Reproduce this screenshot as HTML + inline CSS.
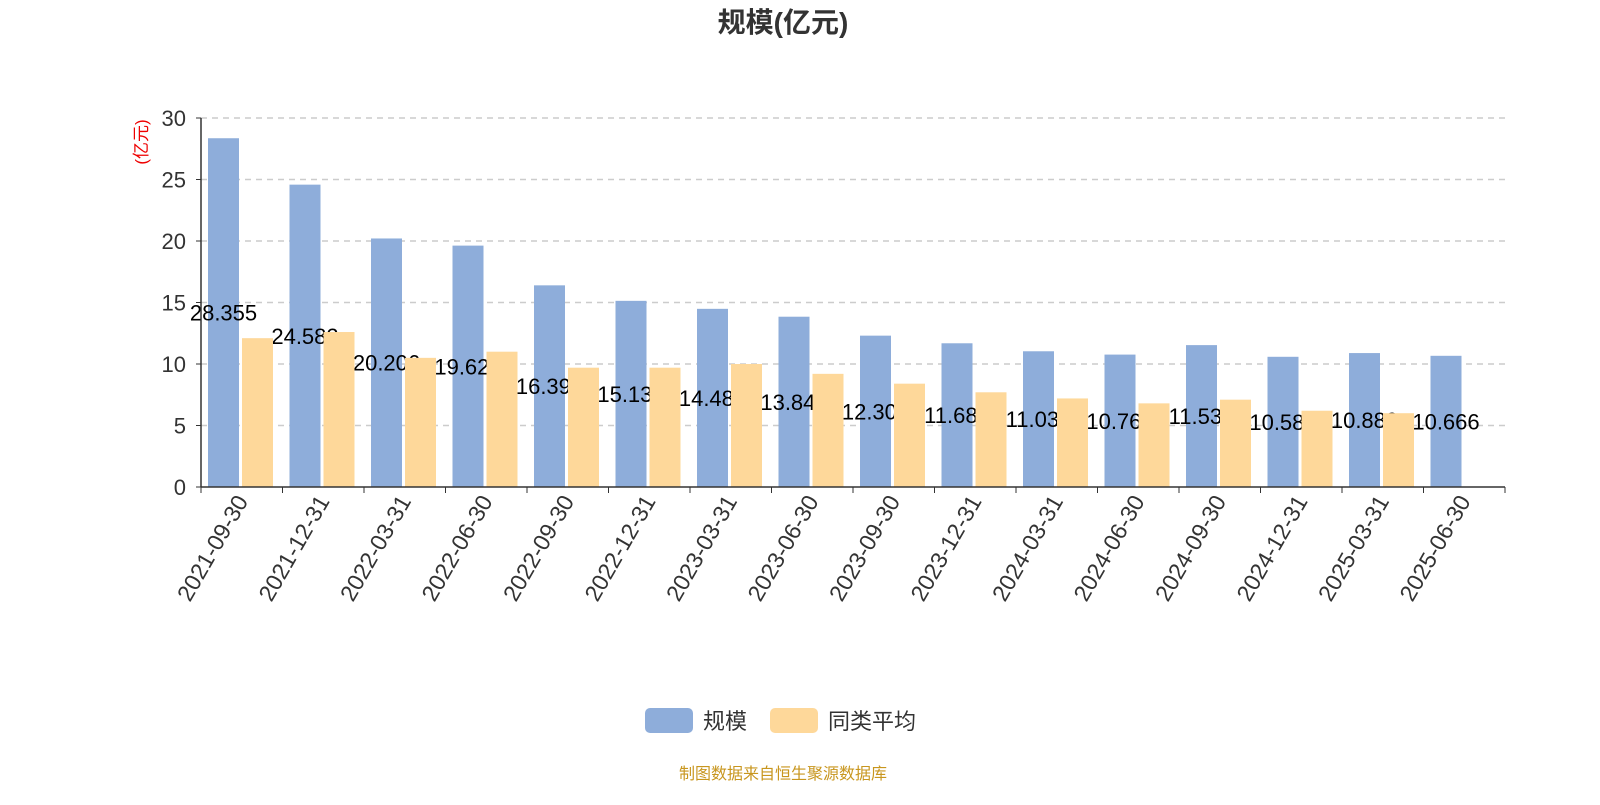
<!DOCTYPE html>
<html><head><meta charset="utf-8"><style>
body{margin:0;background:#fff;}
svg text{font-family:"Liberation Sans","Noto Sans CJK SC",sans-serif;}
</style></head><body>
<svg id="c" width="1600" height="800" xmlns="http://www.w3.org/2000/svg">
<text x="783" y="32" text-anchor="middle" font-size="28" font-weight="bold" fill="#333">规模(亿元)</text>
<text transform="translate(147,142) rotate(-90)" text-anchor="middle" font-size="17" fill="#e00">(亿元)</text>
<g id="grid"></g><g id="blue"></g><g id="labels"></g><g id="yellow"></g><g id="axes"></g>
<g>
<rect x="645" y="708" width="48" height="25" rx="5" fill="#8eadda"/>
<text x="703" y="729" font-size="22" fill="#333">规模</text>
<rect x="770" y="708" width="48" height="25" rx="5" fill="#fed89a"/>
<text x="828" y="729" font-size="22" fill="#333">同类平均</text>
</g>
<text x="783" y="779" text-anchor="middle" font-size="16" fill="#c8961e">制图数据来自恒生聚源数据库</text>
</svg>
<script>
const categories=["2021-09-30","2021-12-31","2022-03-31","2022-06-30","2022-09-30","2022-12-31","2023-03-31","2023-06-30","2023-09-30","2023-12-31","2024-03-31","2024-06-30","2024-09-30","2024-12-31","2025-03-31","2025-06-30"];
const scaleValues=[28.355,24.582,20.206,19.625,16.395,15.135,14.485,13.845,12.305,11.685,11.035,10.765,11.535,10.586,10.889,10.666];
const scaleLabels=["28.355","24.582","20.206","19.625","16.395","15.135","14.485","13.845","12.305","11.685","11.035","10.765","11.535","10.586","10.889","10.666"];
const avgValues=[12.1,12.6,10.5,11.0,9.7,9.7,10.0,9.2,8.4,7.7,7.2,6.8,7.1,6.2,6.0,null];
const yTicks=[0,5,10,15,20,25,30];
const NS="http://www.w3.org/2000/svg";
const x0=201,x1=1505,y0=487,y30=118;
const bw=(x1-x0)/categories.length;
const y=v=>y0-(v/30)*(y0-y30);
const xs=i=>x0+bw*i;
function mk(t,a,p){const e=document.createElementNS(NS,t);for(const k in a)e.setAttribute(k,a[k]);p.appendChild(e);return e;}
const g=document.getElementById('grid'),B=document.getElementById('blue'),L=document.getElementById('labels'),Y=document.getElementById('yellow'),A=document.getElementById('axes');
yTicks.forEach(t=>{
 if(t>0){const l=mk('line',{x1:x0,x2:x1,y1:y(t),y2:y(t),stroke:'#ccc','stroke-dasharray':'6,5','stroke-width':1.5},g);
 }
 const tx=mk('text',{x:186,y:y(t)+8,'text-anchor':'end','font-size':22,fill:'#333'},A);tx.textContent=t;
 
 mk('line',{x1:196,x2:201,y1:y(t),y2:y(t),stroke:'#333'},A);
});
mk('line',{x1:x0,x2:x0,y1:y30,y2:y0,stroke:'#333','stroke-width':1.5},A);
mk('line',{x1:x0,x2:x1,y1:y0,y2:y0,stroke:'#333','stroke-width':1.5},A);
for(let i=0;i<=categories.length;i++)mk('line',{x1:xs(i),x2:xs(i),y1:y0,y2:y0+6,stroke:'#333'},A);
categories.forEach((c,i)=>{
 const bx=xs(i)+7,w=31;
 const r=mk('rect',{x:bx,y:y(scaleValues[i]),width:w,height:y0-y(scaleValues[i]),fill:'#8eadda'},B);
 
 const t=mk('text',{x:bx+w/2,y:(y(scaleValues[i])+y0)/2+8,'text-anchor':'middle','font-size':22,fill:'#000'},L);
 t.textContent=scaleLabels[i];
 if(avgValues[i]!=null){const r2=mk('rect',{x:bx+w+3,y:y(avgValues[i]),width:w,height:y0-y(avgValues[i]),fill:'#fed89a'},Y);
 }
 const cx=xs(i)+bw/2;
 const xt=mk('text',{transform:`translate(${cx+7},${y0+14}) rotate(-60)`,'text-anchor':'end','font-size':23,fill:'#333'},A);
 xt.textContent=c;
});
</script>
</body></html>
